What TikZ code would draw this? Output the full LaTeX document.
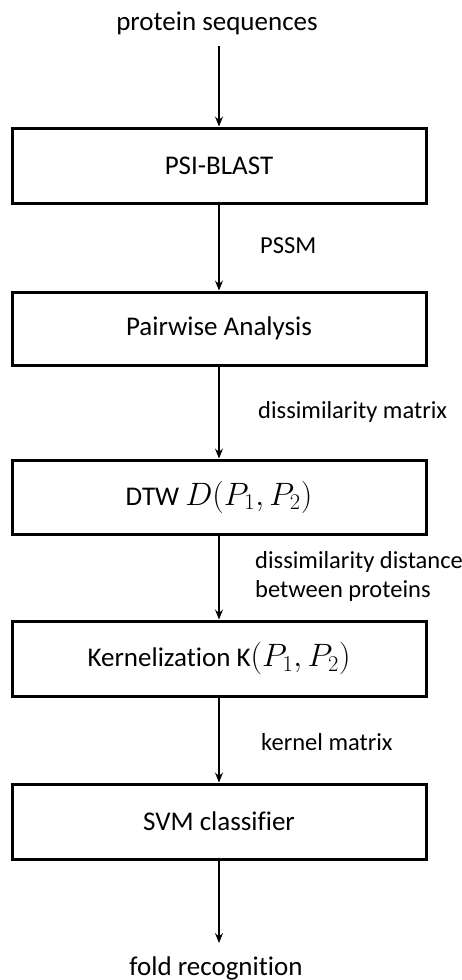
\documentclass[tikz,border=0pt]{standalone}
\usepackage{fontspec}
\setmainfont[Ligatures=NoCommon]{Carlito}
\usetikzlibrary{arrows.meta}
\newcommand{\largemath}[1]{\scalebox{1.3}{$#1$}}
\begin{document}
\begin{tikzpicture}[x=1pt,y=-1pt,
  stagebox/.style={draw, line width=3pt, minimum width=414pt, inner sep=0pt, font=\fontsize{27}{30}\selectfont},
  plain/.style={font=\fontsize{27}{30}\selectfont, inner sep=0pt},
  lbl/.style={font=\fontsize{24.5}{29}\selectfont, inner sep=0pt, anchor=west, align=left},
  flow/.style={line width=1.3pt, -{Stealth[length=10pt,width=8pt,inset=3.5pt]}}]
\useasboundingbox (0,0) rectangle (462,980);
\node[plain] (in) at (217,23) {protein sequences};
\coordinate (intop) at (219,46);
\node[stagebox, minimum height=75pt] (b1) at (219,165.5) {PSI-BLAST};
\node[stagebox, minimum height=73pt] (b2) at (219,328.5) {Pairwise Analysis};
\node[stagebox, minimum height=74pt] (b3) at (219,497) {DTW \largemath{D(P_1,P_2)}};
\node[stagebox, minimum height=75pt] (b4) at (219,658.5) {Kernelization K\largemath{(P_1,P_2)}};
\node[stagebox, minimum height=75pt] (b5) at (219,821.5) {SVM classifier};
\coordinate (outend) at (219,943);
\node[plain] (out) at (216,968) {fold recognition};
\node[lbl] (l1) at (260,246) {PSSM};
\node[lbl] (l2) at (258,412) {dissimilarity matrix};
\node[lbl] (l3) at (255,576) {dissimilarity distance\\between proteins};
\node[lbl] (l4) at (261,742) {kernel matrix};
\draw[flow] (intop) -- (b1.north);
\draw[flow] (b1.south) -- (b2.north);
\draw[flow] (b2.south) -- (b3.north);
\draw[flow] (b3.south) -- (b4.north);
\draw[flow] (b4.south) -- (b5.north);
\draw[flow] (b5.south) -- (outend);
\end{tikzpicture}
\end{document}
